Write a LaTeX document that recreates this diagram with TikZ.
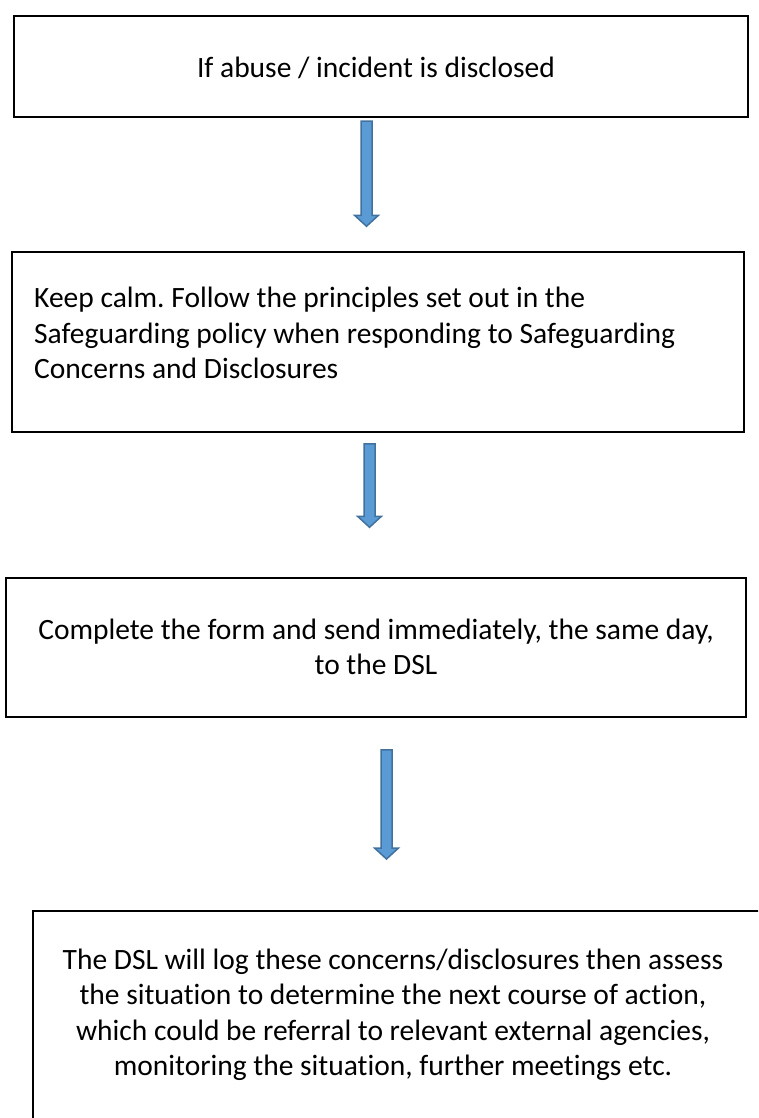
\documentclass[tikz,border=0pt]{standalone}
\usepackage{fontspec}
\setmainfont{Carlito}[Ligatures={NoCommon,TeX}]
\frenchspacing
\usetikzlibrary{calc,shadows}

\definecolor{arrowfill}{HTML}{5B9BD5}
\definecolor{arrowedge}{HTML}{41719C}

% block arrow: x and top from #1, tip height from #2
\newcommand{\flowarrow}[2]{%
  \path[blockarrow] let \p1=(#1), \p2=(#2) in
    (\x1-5.5pt,\y1) -- (\x1+5.5pt,\y1) -- (\x1+5.5pt,\y2+11pt) -- (\x1+12pt,\y2+11pt)
    -- (\x1,\y2) -- (\x1-12pt,\y2+11pt) -- (\x1-5.5pt,\y2+11pt) -- cycle;}

\begin{document}
\begin{tikzpicture}[x=1pt,y=-1pt,
  box/.style={draw=black,line width=1.5pt,fill=white,inner sep=0pt},
  boxtext/.style={font=\fontsize{29.5}{35.5}\selectfont,inner sep=0pt,align=center},
  blockarrow/.style={fill=arrowfill,draw=arrowedge,line width=1.5pt,line join=miter}]
\useasboundingbox (0,0) rectangle (758,1118);
\clip (0,0) rectangle (758,1118);

\node[box,line width=2.4pt,minimum width=734pt,minimum height=101pt,
  drop shadow={shadow xshift=1.2pt,shadow yshift=-1.2pt,fill=black!40}] (box1) at (381,66.5) {};
\node[boxtext] (box1text) at (376,68) {If abuse / incident is disclosed};

\node[box,minimum width=732pt,minimum height=180pt] (box2) at (378,342) {};
\node[boxtext,anchor=west,align=left] (box2text) at (34,333)
  {Keep calm. Follow the principles set out in the\\
   Safeguarding policy when responding to Safeguarding\\
   Concerns and Disclosures};

\node[box,minimum width=740pt,minimum height=139pt] (box3) at (376,647.5) {};
\node[boxtext] (box3text) at (376,647)
  {Complete the form and send immediately, the same day,\\to the DSL};

\node[box,anchor=north west,minimum width=800pt,minimum height=260pt] (box4) at (32,910) {};
\node[boxtext] (box4text) at (393,1015)
  {The DSL will log these concerns/disclosures then assess\\
   the situation to determine the next course of action,\\
   which could be referral to relevant external agencies,\\
   monitoring the situation, further meetings etc.};

\flowarrow{[xshift=-14.5pt,yshift=-3pt]box1.south}{[yshift=25pt]box2.north}
\flowarrow{[xshift=-8.5pt,yshift=-11pt]box2.south}{[yshift=50pt]box3.north}
\flowarrow{[xshift=10.5pt,yshift=-32pt]box3.south}{[yshift=51pt]box4.north}
\end{tikzpicture}
\end{document}
